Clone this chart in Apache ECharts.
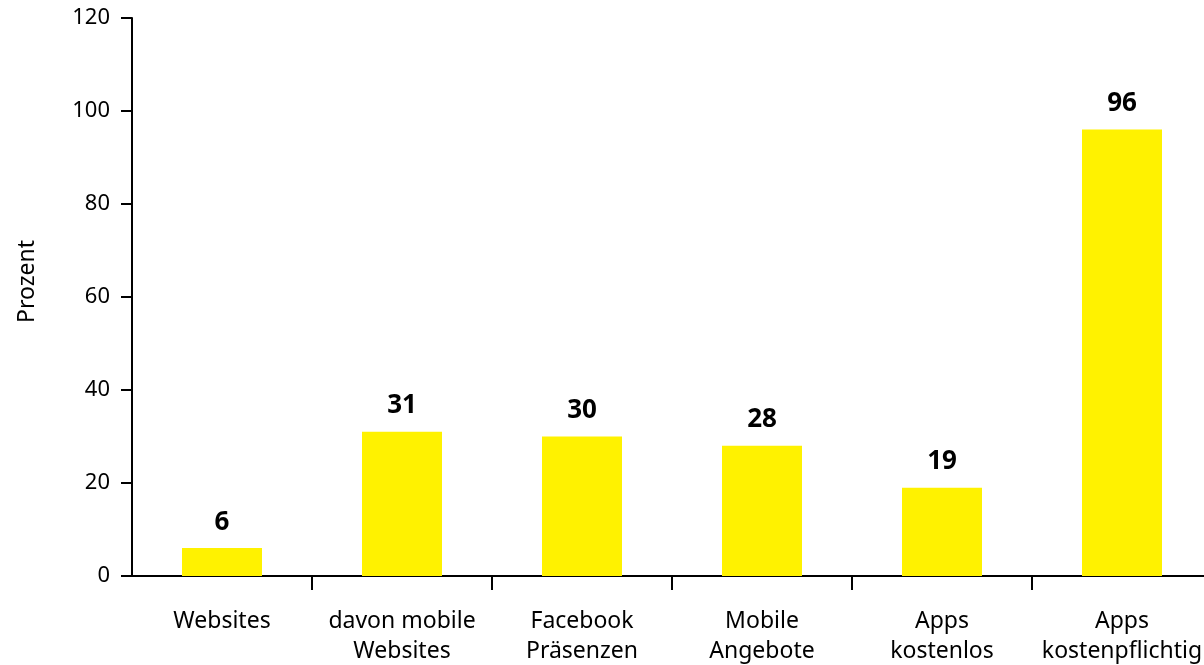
<!DOCTYPE html>
<html>
<head>
<meta charset="utf-8">
<style>
  html, body { margin: 0; padding: 0; background: #ffffff; }
  #chart { width: 1204px; height: 665px; }
</style>
<script src="https://cdn.jsdelivr.net/npm/echarts@6/dist/echarts.min.js"></script>
</head>
<body>
<div id="chart"></div>
<script>
// Anteil der Angebote je Kategorie, in Prozent
const categories = [
  'Websites',
  'davon mobile\nWebsites',
  'Facebook\nPräsenzen',
  'Mobile\nAngebote',
  'Apps\nkostenlos',
  'Apps\nkostenpflichtig'
];
const values = [6, 31, 30, 28, 19, 96];
const yTicks = [0, 20, 40, 60, 80, 100, 120];

const FONT = '"Noto Sans", sans-serif';
const chart = echarts.init(document.getElementById('chart'), null, { renderer: 'canvas' });

chart.setOption({
  animation: false,
  backgroundColor: '#ffffff',
  // the last category runs past the right edge of the canvas
  grid: {
    left: 132, top: 18, bottom: 89, width: 1080,
    containLabel: false,
    outerBoundsMode: 'none'
  },
  xAxis: {
    type: 'category',
    data: categories,
    boundaryGap: true,
    axisLine: { show: true, lineStyle: { color: '#000000', width: 2 } },
    axisTick: {
      show: true,
      length: 14,
      lineStyle: { color: '#000000', width: 2 },
      interval: function (index) { return index !== 0; }
    },
    axisLabel: {
      interval: 0,
      margin: 30,
      color: '#000000',
      fontFamily: FONT,
      fontSize: 23,
      lineHeight: 30
    }
  },
  yAxis: {
    type: 'value',
    min: yTicks[0],
    max: yTicks[yTicks.length - 1],
    interval: yTicks[1] - yTicks[0],
    splitLine: { show: false },
    axisLine: { show: true, lineStyle: { color: '#000000', width: 2 } },
    axisTick: { show: true, length: 11, lineStyle: { color: '#000000', width: 2 } },
    axisLabel: {
      margin: 22,
      color: '#000000',
      fontFamily: FONT,
      fontSize: 22
    }
  },
  graphic: [{
    type: 'text',
    left: 16,
    top: 240,
    rotation: Math.PI / 2,
    style: {
      text: 'Prozent',
      fill: '#000000',
      font: '23px ' + FONT
    }
  }],
  series: [{
    type: 'bar',
    data: values,
    barWidth: 80,
    itemStyle: { color: '#FFF200' },
    label: {
      show: true,
      position: 'top',
      distance: 13,
      color: '#000000',
      fontFamily: FONT,
      fontWeight: 'bold',
      fontSize: 26
    }
  }]
});
</script>
</body>
</html>
